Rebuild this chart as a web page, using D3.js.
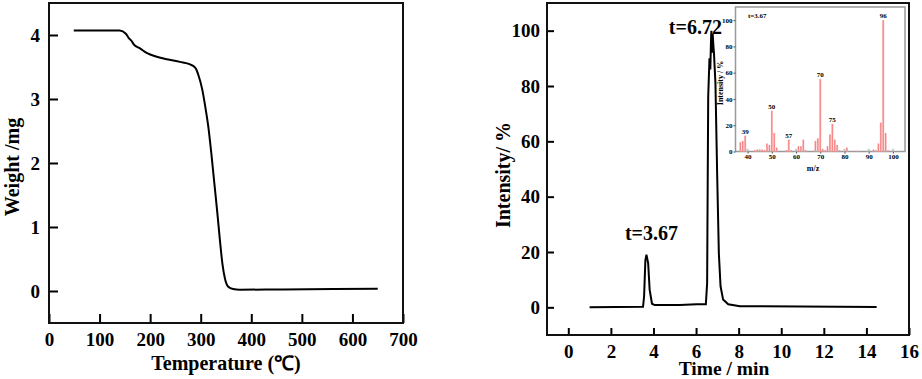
<!DOCTYPE html>
<html><head><meta charset="utf-8">
<script src="https://cdn.jsdelivr.net/npm/d3@7"></script>
<style>
html,body{margin:0;padding:0;background:#fff;}
svg{display:block;}
text{font-family:"Liberation Serif","Times New Roman",serif;font-weight:bold;fill:#000;}
</style></head>
<body>
<svg id="c" width="922" height="379"></svg>
<script>
// ---------- Data ----------
// Left panel: TGA curve
const tgaTemp   = [49, 140, 152, 157, 163, 168, 180, 193, 213, 233, 259, 279, 289, 296, 303, 310, 315, 321, 327, 333, 338, 343, 348, 354, 364, 377, 463, 650];
const tgaWeight = [4.07, 4.07, 4.02, 3.96, 3.91, 3.85, 3.79, 3.72, 3.66, 3.62, 3.58, 3.54, 3.49, 3.36, 3.15, 2.83, 2.57, 2.15, 1.68, 1.21, 0.79, 0.42, 0.19, 0.07, 0.03, 0.02, 0.025, 0.035];
const tgaXTicks = [0, 100, 200, 300, 400, 500, 600, 700];
const tgaYTicks = [0, 1, 2, 3, 4];

// Right panel: chromatogram
const rtTime      = [1.0, 3.51, 3.56, 3.62, 3.67, 3.75, 3.82, 3.93, 4.06, 5.24, 6.02, 6.46, 6.52, 6.57, 6.63, 6.67, 6.70, 6.72, 6.75, 6.78, 6.81, 6.84, 6.91, 6.99, 7.07, 7.15, 7.27, 7.51, 8.06, 14.48];
const rtIntensity = [0, 0.2, 4, 17, 19, 16, 6.4, 1.3, 0.8, 0.8, 1.1, 1.1, 8.8, 76, 90, 86, 96, 100, 92, 99, 95, 92, 81, 48.5, 19.6, 7.6, 2.8, 1.1, 0.4, 0.1];
const rtXTicks = [0, 2, 4, 6, 8, 10, 12, 14, 16];
const rtYTicks = [0, 20, 40, 60, 80, 100];
const peakLabels = ["t=3.67", "t=6.72"];

// Inset: mass spectrum at t=3.67
const msMz  = [37, 38, 39, 43, 44, 45, 46, 47, 48, 49, 50, 51, 52, 56, 57, 58, 61, 62, 63, 64, 68, 69, 70, 71, 72, 73, 74, 75, 76, 77, 78, 81, 85, 92, 93, 94, 95, 96, 97, 98];
const msInt = [7, 8, 12, 1, 1.5, 1.5, 1.5, 1, 6, 5, 31, 14, 3, 1, 9, 1, 4, 4, 9, 1, 8, 10, 55, 2, 1, 4, 13, 21, 9, 5, 1, 3, 0.5, 1.5, 1, 6, 22, 100, 14, 1];
const msGrayMz  = [40, 60, 80, 90, 100];
const msGrayInt = [2, 2, 2, 2, 2];
const msLabelMz = [39, 50, 57, 70, 75, 96];
const msXTicks = [40, 50, 60, 70, 80, 90, 100];
const msYTicks = [0, 20, 40, 60, 80, 100];

// ---------- Drawing ----------
const svg = d3.select("#c");

// ===== Left panel =====
const L = {x0: 49, x1: 403, y0: 3, y1: 323};
const lx = d3.scaleLinear().domain([0, 700]).range([L.x0, L.x1]);
const ly = d3.scaleLinear().domain([-0.5, 4.5]).range([L.y1, L.y0]);

const lxAxis = svg.append("g").attr("transform", `translate(0,${L.y1})`)
  .call(d3.axisBottom(lx).tickValues(tgaXTicks).tickSize(-9).tickPadding(10).tickFormat(d3.format("d")));
const lyAxis = svg.append("g").attr("transform", `translate(${L.x0},0)`)
  .call(d3.axisLeft(ly).tickValues(tgaYTicks).tickSize(-9).tickPadding(9).tickFormat(d3.format("d")));
[lxAxis, lyAxis].forEach(a => {
  a.select(".domain").remove();
  a.selectAll("line").attr("stroke", "#000").attr("stroke-width", 2);
  a.selectAll("text").style("font-size", "19px").attr("fill", "#000");
});
lxAxis.selectAll("text").attr("dy", "0.71em");

svg.append("rect").attr("x", L.x0).attr("y", L.y0).attr("width", L.x1 - L.x0).attr("height", L.y1 - L.y0)
  .attr("fill", "none").attr("stroke", "#111").attr("stroke-width", 2);

svg.append("path")
  .datum(tgaTemp.map((t, i) => [t, tgaWeight[i]]))
  .attr("fill", "none").attr("stroke", "#000").attr("stroke-width", 2)
  .attr("d", d3.line().x(d => lx(d[0])).y(d => ly(d[1])).curve(d3.curveMonotoneX));

svg.append("text").attr("x", (L.x0 + L.x1) / 2).attr("y", 370).attr("text-anchor", "middle")
  .style("font-size", "20px").text("Temperature (℃)");
svg.append("text").attr("transform", `translate(19,167) rotate(-90)`).attr("text-anchor", "middle")
  .style("font-size", "20px").text("Weight /mg");

// ===== Right panel =====
const R = {x0: 547, x1: 909, y0: 3, y1: 335};
const rx = d3.scaleLinear().domain([-1, 16]).range([R.x0, R.x1]);
const ry = d3.scaleLinear().domain([-10, 110]).range([R.y1, R.y0]);

const rxAxis = svg.append("g").attr("transform", `translate(0,${R.y1})`)
  .call(d3.axisBottom(rx).tickValues(rtXTicks).tickSize(-7).tickPadding(10).tickFormat(d3.format("d")));
const ryAxis = svg.append("g").attr("transform", `translate(${R.x0},0)`)
  .call(d3.axisLeft(ry).tickValues(rtYTicks).tickSize(-7).tickPadding(7).tickFormat(d3.format("d")));
[rxAxis, ryAxis].forEach(a => {
  a.select(".domain").remove();
  a.selectAll("line").attr("stroke", "#000").attr("stroke-width", 2);
  a.selectAll("text").style("font-size", "19px").attr("fill", "#000");
});
rxAxis.selectAll("text").attr("dy", "0.71em");

svg.append("rect").attr("x", R.x0).attr("y", R.y0).attr("width", R.x1 - R.x0).attr("height", R.y1 - R.y0)
  .attr("fill", "none").attr("stroke", "#111").attr("stroke-width", 2);

svg.append("path")
  .datum(rtTime.map((t, i) => [t, rtIntensity[i]]))
  .attr("fill", "none").attr("stroke", "#000").attr("stroke-width", 2)
  .attr("d", d3.line().x(d => rx(d[0])).y(d => ry(d[1])));

svg.append("text").attr("x", rx(3.67) + 5).attr("y", 240).attr("text-anchor", "middle")
  .style("font-size", "20px").text(peakLabels[0]);
svg.append("text").attr("x", rx(6.72) - 16).attr("y", 34).attr("text-anchor", "middle")
  .style("font-size", "20px").text(peakLabels[1]);

svg.append("text").attr("x", 724).attr("y", 375).attr("text-anchor", "middle")
  .style("font-size", "19.5px").text("Time / min");
svg.append("text").attr("transform", `translate(510,175) rotate(-90)`).attr("text-anchor", "middle")
  .style("font-size", "20px").text("Intensity/ %");

// ===== Inset =====
const I = {x0: 735.5, x1: 905, y0: 7, y1: 151.5};
const ix = d3.scaleLinear().domain([35, 105]).range([I.x0, I.x1]);
const iy = d3.scaleLinear().domain([0, 110]).range([I.y1, I.y0]);

svg.append("rect").attr("x", I.x0).attr("y", I.y0).attr("width", I.x1 - I.x0).attr("height", I.y1 - I.y0)
  .attr("fill", "#fff").attr("stroke", "#999").attr("stroke-width", 1.5);

const ixAxis = svg.append("g").attr("transform", `translate(0,${I.y1})`)
  .call(d3.axisBottom(ix).tickValues(msXTicks).tickSize(2).tickPadding(1).tickFormat(d3.format("d")));
const iyAxis = svg.append("g").attr("transform", `translate(${I.x0},0)`)
  .call(d3.axisLeft(iy).tickValues(msYTicks).tickSize(2).tickPadding(1).tickFormat(d3.format("d")));
[ixAxis, iyAxis].forEach(a => {
  a.select(".domain").remove();
  a.selectAll("line").attr("stroke", "#555").attr("stroke-width", 1);
  a.selectAll("text").style("font-size", "7px").attr("fill", "#000");
});

// gray bars
svg.append("g").selectAll("rect").data(msGrayMz).join("rect")
  .attr("x", d => ix(d) - 1).attr("width", 2)
  .attr("y", (d, i) => iy(msGrayInt[i])).attr("height", (d, i) => I.y1 - iy(msGrayInt[i]))
  .attr("fill", "#c4c4c4");
// pink bars
const bars = svg.append("g");
bars.selectAll("rect").data(msMz).join("rect")
  .attr("x", d => ix(d) - 1).attr("width", 2)
  .attr("y", (d, i) => iy(msInt[i])).attr("height", (d, i) => I.y1 - iy(msInt[i]))
  .attr("fill", "#fbbaba");
bars.selectAll("line").data(msMz).join("line")
  .attr("x1", d => ix(d)).attr("x2", d => ix(d))
  .attr("y1", (d, i) => iy(msInt[i])).attr("y2", I.y1)
  .attr("stroke", "#f27070").attr("stroke-width", 0.8);

svg.append("g").selectAll("text").data(msLabelMz).join("text")
  .attr("x", d => ix(d)).attr("y", d => iy(msInt[msMz.indexOf(d)]) - 2)
  .attr("text-anchor", "middle").style("font-size", "7px").text(d => d);

svg.append("text").attr("x", 748).attr("y", 18).style("font-size", "7px").text("t=3.67");
svg.append("text").attr("x", ix(67)).attr("y", 171).attr("text-anchor", "middle")
  .style("font-size", "8px").text("m/z");
svg.append("text").attr("transform", `translate(723,83) rotate(-90)`).attr("text-anchor", "middle")
  .style("font-size", "8px").text("Intensity / %");
</script>
</body></html>
